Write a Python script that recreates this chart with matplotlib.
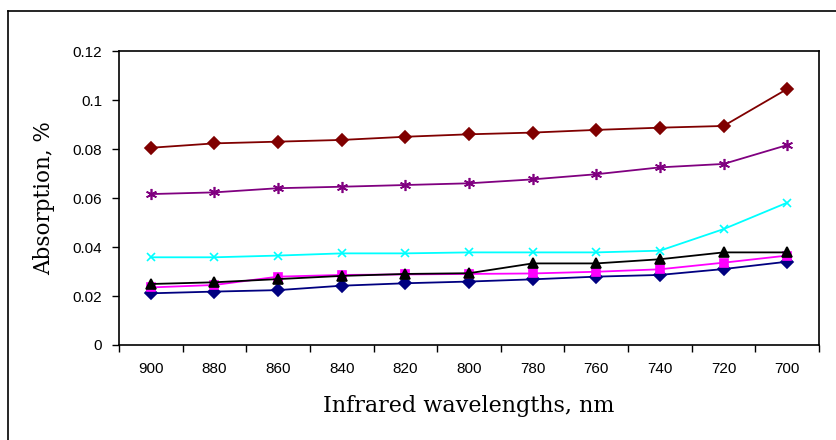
import matplotlib
matplotlib.use("Agg")
import matplotlib.pyplot as plt
from matplotlib.lines import Line2D
import numpy as np

WAVELENGTHS = ["900", "880", "860", "840", "820", "800", "780", "760", "740", "720", "700"]

navy_diamond = [0.0211, 0.0218, 0.0224, 0.0242, 0.0252, 0.0259, 0.0268, 0.0279, 0.0286, 0.0310, 0.0340]
magenta_square = [0.0235, 0.0245, 0.0279, 0.0286, 0.0288, 0.0290, 0.0292, 0.0299, 0.0309, 0.0336, 0.0365]
black_triangle = [0.0249, 0.0256, 0.0269, 0.0282, 0.0290, 0.0293, 0.0333, 0.0333, 0.0350, 0.0378, 0.0378]
cyan_cross = [0.0358, 0.0358, 0.0365, 0.0374, 0.0374, 0.0378, 0.0378, 0.0378, 0.0385, 0.0473, 0.0581]
purple_star = [0.0616, 0.0623, 0.0640, 0.0646, 0.0653, 0.0660, 0.0676, 0.0697, 0.0725, 0.0739, 0.0816]
brown_diamond = [0.0805, 0.0823, 0.0830, 0.0837, 0.0850, 0.0860, 0.0867, 0.0878, 0.0887, 0.0894, 0.1045]

SERIES = [
    (navy_diamond, "#000080", "D", 6),
    (magenta_square, "#ff00ff", "s", 6),
    (black_triangle, "#000000", "^", 7),
    (cyan_cross, "#00ffff", "x", 6),
    (purple_star, "#800080", (6, 2, 0), 8),
    (brown_diamond, "#800000", "D", 6),
]

fig = plt.figure(figsize=(8.37, 4.40), dpi=100)
ax = fig.add_axes([119 / 837, 1 - 345 / 440, 700 / 837, 294 / 440])

x = np.arange(len(WAVELENGTHS))
for values, color, marker, size in SERIES:
    ax.plot(x, values, color=color, marker=marker, markersize=size,
            markeredgewidth=1.2, linewidth=1.3)

ax.set_xlim(-0.5, len(WAVELENGTHS) - 0.5)
ax.set_ylim(0, 0.12)
ax.set_yticks(np.linspace(0, 0.12, 7))
ax.set_yticklabels(["0", "0.02", "0.04", "0.06", "0.08", "0.1", "0.12"])

# Excel style: ticks between categories, labels centred on categories
ax.set_xticks(np.arange(len(WAVELENGTHS) + 1) - 0.5)
ax.set_xticklabels([])
ax.set_xticks(x, minor=True)
ax.set_xticklabels(WAVELENGTHS, minor=True)
ax.tick_params(axis="x", which="minor", length=0, pad=12)
ax.tick_params(axis="both", which="major", direction="out", length=5, width=1)
ax.tick_params(axis="y", pad=7)
for lab in ax.get_xticklabels(minor=True) + ax.get_yticklabels():
    lab.set_fontfamily("Liberation Sans")
    lab.set_fontsize(11)

for sp in ax.spines.values():
    sp.set_linewidth(1.2)

ax.set_ylabel("Absorption, %", family="DejaVu Serif", fontsize=15.5, labelpad=13)
ax.set_xlabel("Infrared wavelengths, nm", family="DejaVu Serif", fontsize=16, labelpad=14)

# outer chart frame (partly cropped)
fx = 8.5 / 837
fy = 1 - 11.5 / 440
fig.add_artist(Line2D([fx, fx], [0, fy], color="black", linewidth=1.2))
fig.add_artist(Line2D([fx, 1], [fy, fy], color="black", linewidth=1.2))

fig.savefig("out.png", dpi=100)
